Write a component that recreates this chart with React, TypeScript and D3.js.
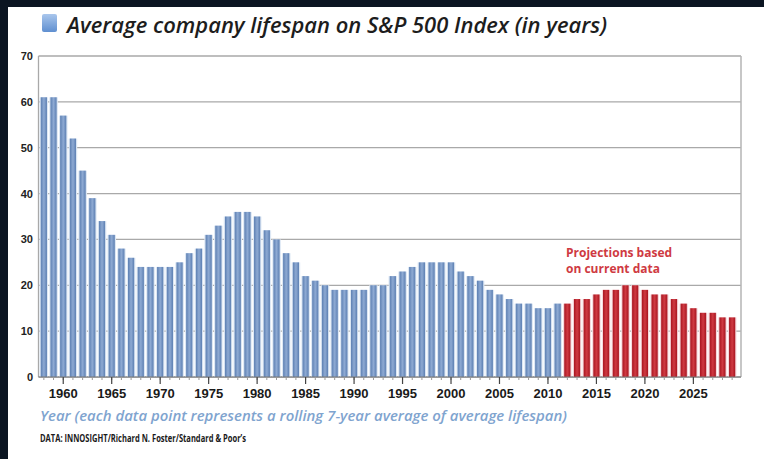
import { scaleBand, scaleLinear } from "d3";

const years = [
  1958, 1959, 1960, 1961, 1962, 1963, 1964, 1965, 1966, 1967, 1968, 1969,
  1970, 1971, 1972, 1973, 1974, 1975, 1976, 1977, 1978, 1979, 1980, 1981,
  1982, 1983, 1984, 1985, 1986, 1987, 1988, 1989, 1990, 1991, 1992, 1993,
  1994, 1995, 1996, 1997, 1998, 1999, 2000, 2001, 2002, 2003, 2004, 2005,
  2006, 2007, 2008, 2009, 2010, 2011, 2012, 2013, 2014, 2015, 2016, 2017,
  2018, 2019, 2020, 2021, 2022, 2023, 2024, 2025, 2026, 2027, 2028, 2029,
];

// historical values, 1958-2011
const actual = [
  61, 61, 57, 52, 45, 39, 34, 31, 28, 26, 24, 24,
  24, 24, 25, 27, 28, 31, 33, 35, 36, 36, 35, 32,
  30, 27, 25, 22, 21, 20, 19, 19, 19, 19, 20, 20,
  22, 23, 24, 25, 25, 25, 25, 23, 22, 21, 19, 18,
  17, 16, 16, 15, 15, 16,
];

// projections, 2012-2029
const projected = [16, 17, 17, 18, 19, 19, 20, 20, 19, 18, 18, 17, 16, 15, 14, 14, 13, 13];

const tickYears = [1960, 1965, 1970, 1975, 1980, 1985, 1990, 1995, 2000, 2005, 2010, 2015, 2020, 2025];
const yTicks = [0, 10, 20, 30, 40, 50, 60, 70];
const noteLines = ["Projections based", "on current data"];

const values = [...actual, ...projected];

export default function App() {
  const left = 38.5;
  const right = 741;
  const top = 56;
  const bottom = 377;

  const x = scaleBand<number>().domain(years).range([left + 0.5, 737]).paddingInner(0.36).paddingOuter(0.18);
  const y = scaleLinear().domain([0, 70]).range([bottom, top]);
  const half = x.bandwidth() / 2;
  const cx = (yr: number) => (x(yr) ?? 0) + half;

  return (
    <svg width={764} height={459} style={{ position: "absolute", left: 0, top: 0, background: "#ffffff" }}>
      <defs>
        <linearGradient id="blueBar" x1="0" x2="1" y1="0" y2="0">
          <stop offset="0" stopColor="#5c7fb2" />
          <stop offset="0.5" stopColor="#8eaad3" />
          <stop offset="1" stopColor="#5c7fb2" />
        </linearGradient>
        <linearGradient id="redBar" x1="0" x2="1" y1="0" y2="0">
          <stop offset="0" stopColor="#a8141f" />
          <stop offset="0.5" stopColor="#cf3a42" />
          <stop offset="1" stopColor="#a8141f" />
        </linearGradient>
        <linearGradient id="icon" x1="0" x2="0" y1="0" y2="1">
          <stop offset="0" stopColor="#a9c6ec" />
          <stop offset="1" stopColor="#5f8fd0" />
        </linearGradient>
      </defs>

      {/* dark frame around the screenshot */}
      <rect x={0} y={0} width={764} height={7} fill="#0b1522" />
      <rect x={0} y={0} width={8} height={459} fill="#0b1522" />

      {/* title */}
      <rect x={42} y={14} width={15} height={18} rx={2} fill="url(#icon)" />
      <text x={67} y={33} fontFamily="'Open Sans', sans-serif" fontStyle="italic" fontWeight={600}
        fontSize={21} fill="#1d1d1d" textLength={540} lengthAdjust="spacingAndGlyphs">
        Average company lifespan on S&amp;P 500 Index (in years)
      </text>

      {/* grid */}
      {yTicks.map((t) => (
        <g key={`g-${t}`}>
          <line x1={left} x2={right} y1={y(t)} y2={y(t)} stroke="#a9a9a9" strokeWidth={1.3} />
          <text x={33} y={y(t) + 4} textAnchor="end" fontFamily="'Liberation Sans', Arial, sans-serif"
            fontWeight={700} fontSize={11} fill="#222">{t}</text>
        </g>
      ))}
      <line x1={left} x2={left} y1={top} y2={bottom} stroke="#a9a9a9" strokeWidth={1.3} />
      <line x1={right} x2={right} y1={top} y2={bottom} stroke="#b5b5b5" strokeWidth={1.5} />

      {/* bars */}
      {values.map((v, i) => {
        const yr = years[i];
        const isProj = i >= actual.length;
        return (
          <g key={`bar-${yr}`}>
            <rect x={(x(yr) ?? 0) - 1.2} y={y(v)} width={x.bandwidth() + 2.4} height={bottom - y(v)}
              fill={isProj ? "#f6d8dc" : "#dce7f4"} />
            <rect x={x(yr)} y={y(v)} width={x.bandwidth()} height={bottom - y(v)}
              fill={isProj ? "url(#redBar)" : "url(#blueBar)"} />
          </g>
        );
      })}

      {/* x axis */}
      <line x1={left} x2={right} y1={bottom} y2={bottom} stroke="#777" strokeWidth={1} />
      {years.map((yr) => (
        <line key={`mt-${yr}`} x1={cx(yr)} x2={cx(yr)} y1={bottom} y2={bottom + 3} stroke="#999" strokeWidth={1} />
      ))}
      {tickYears.map((yr) => (
        <g key={`t-${yr}`}>
          <line x1={cx(yr)} x2={cx(yr)} y1={bottom} y2={bottom + 7} stroke="#444" strokeWidth={1.2} />
          <text x={cx(yr)} y={398} textAnchor="middle" fontFamily="'Liberation Sans', Arial, sans-serif"
            fontWeight={700} fontSize={13} fill="#1a1a1a">{yr}</text>
        </g>
      ))}

      {/* projection note */}
      {noteLines.map((line, i) => (
        <text key={line} x={566} y={257 + i * 16} fontFamily="'Open Sans', sans-serif" fontWeight={700}
          fontSize={12} fill="#cf3a42">{line}</text>
      ))}

      {/* footnotes */}
      <text x={40} y={421} fontFamily="'Open Sans', sans-serif" fontStyle="italic" fontWeight={600}
        fontSize={14.5} fill="#7fa4cf" textLength={527} lengthAdjust="spacingAndGlyphs">
        Year (each data point represents a rolling 7-year average of average lifespan)
      </text>
      <text x={40} y={442} fontFamily="'Open Sans', sans-serif" fontWeight={700}
        fontSize={10} fill="#1a1a1a" textLength={206} lengthAdjust="spacingAndGlyphs">
        DATA: INNOSIGHT/Richard N. Foster/Standard &amp; Poor’s
      </text>
    </svg>
  );
}
